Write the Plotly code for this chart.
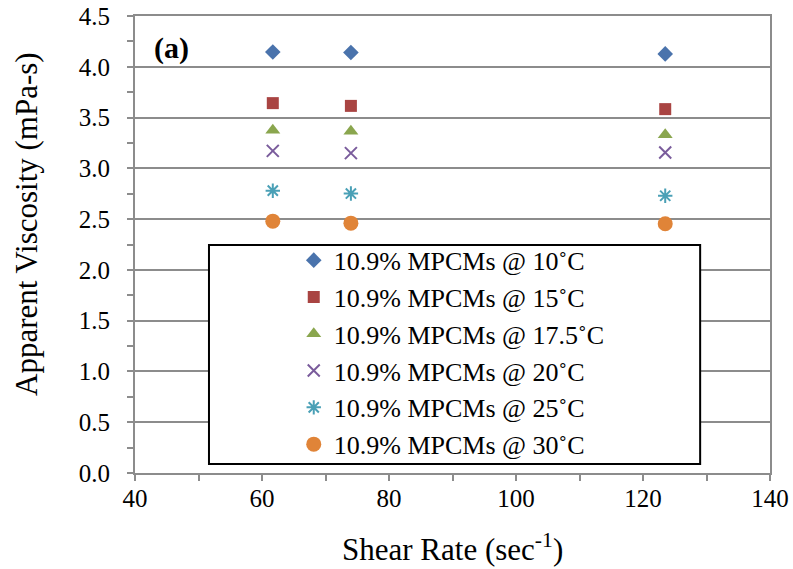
import plotly.graph_objects as go

# Shear rates (1/s) at which apparent viscosity was measured
shear_rate = [61.7, 74.0, 123.5]

# Apparent viscosity (mPa-s) of 10.9% MPCM slurry at each temperature
visc_10 = [4.145, 4.140, 4.127]
visc_15 = [3.642, 3.615, 3.583]
visc_175 = [3.376, 3.366, 3.330]
visc_20 = [3.172, 3.150, 3.156]
visc_25 = [2.780, 2.752, 2.730]
visc_30 = [2.480, 2.460, 2.454]

labels = [
    "10.9% MPCMs @ 10˚C",
    "10.9% MPCMs @ 15˚C",
    "10.9% MPCMs @ 17.5˚C",
    "10.9% MPCMs @ 20˚C",
    "10.9% MPCMs @ 25˚C",
    "10.9% MPCMs @ 30˚C",
]
series = [visc_10, visc_15, visc_175, visc_20, visc_25, visc_30]

styles = [
    dict(symbol="diamond", size=12, color="#4A73AC"),
    dict(symbol="square", size=12, color="#A94442"),
    dict(symbol="triangle-up", size=13, color="#8AA64E"),
    dict(symbol="x-thin-open", size=12, color="#7A5C9C", line=dict(width=2, color="#7A5C9C")),
    dict(symbol="asterisk-open", size=12, color="#4AA0B6", line=dict(width=2, color="#4AA0B6")),
    dict(symbol="circle", size=15, color="#E08438"),
]

FONT = "Liberation Serif"
GRID = "#8C8C8C"

fig = go.Figure()
for name, ys, st in zip(labels, series, styles):
    marker = dict(symbol=st["symbol"], size=st["size"], color=st["color"])
    if "line" in st:
        marker["line"] = st["line"]
    else:
        marker["line"] = dict(width=0)
    fig.add_trace(go.Scatter(x=shear_rate, y=ys, mode="markers", name=name, marker=marker))

# Legend frame (white box that hides the gridlines behind it)
fig.add_shape(type="rect", xref="paper", yref="paper",
              x0=0.1165, x1=0.890, y0=0.0197, y1=0.499,
              line=dict(color="black", width=2), fillcolor="white", layer="above")

fig.update_layout(
    width=793, height=569,
    margin=dict(l=135, r=23, t=16, b=96),
    paper_bgcolor="white", plot_bgcolor="white",
    font=dict(family=FONT, color="black", size=24),
    showlegend=True,
    legend=dict(x=0.250, y=0.517, xanchor="left", yanchor="top",
                bgcolor="rgba(0,0,0,0)", borderwidth=0,
                font=dict(family=FONT, size=26, color="black"),
                itemsizing="trace"),
    xaxis=dict(range=[40, 140], dtick=20, tick0=40, automargin=False,
               showgrid=False, zeroline=False,
               showline=True, linecolor=GRID, linewidth=2, mirror=True,
               ticks="outside", ticklen=6, tickwidth=2, tickcolor=GRID,
               ticklabelstandoff=-4,
               minor=dict(dtick=10, ticks="outside", ticklen=6, tickwidth=2, tickcolor=GRID, showgrid=False),
               tickfont=dict(family=FONT, size=25, color="black")),
    yaxis=dict(range=[0, 4.5], dtick=0.5, tick0=0, tickformat=".1f", automargin=False,
               showgrid=True, gridcolor=GRID, gridwidth=2, zeroline=False,
               showline=True, linecolor=GRID, linewidth=2, mirror=True,
               ticks="outside", ticklen=6, tickwidth=2, tickcolor=GRID,
               ticklabelstandoff=12,
               minor=dict(dtick=0.25, ticks="outside", ticklen=6, tickwidth=2, tickcolor=GRID, showgrid=False),
               tickfont=dict(family=FONT, size=25, color="black")),
    annotations=[
        dict(text="Shear Rate (sec<sup>-1</sup>)", xref="paper", yref="paper",
             x=0.4996, y=-0.163, xanchor="center", yanchor="middle", showarrow=False,
             font=dict(family=FONT, size=31, color="black")),
        dict(text="Apparent Viscosity (mPa-s)", xref="paper", yref="paper",
             x=-0.170, y=0.545, xanchor="center", yanchor="middle", showarrow=False,
             textangle=-90, font=dict(family=FONT, size=31, color="black")),
        dict(text="<b>(a)</b>", xref="paper", yref="paper",
             x=0.0567, y=0.930, xanchor="center", yanchor="middle", showarrow=False,
             font=dict(family=FONT, size=30, color="black")),
    ],
)

fig.write_html("out.html")
